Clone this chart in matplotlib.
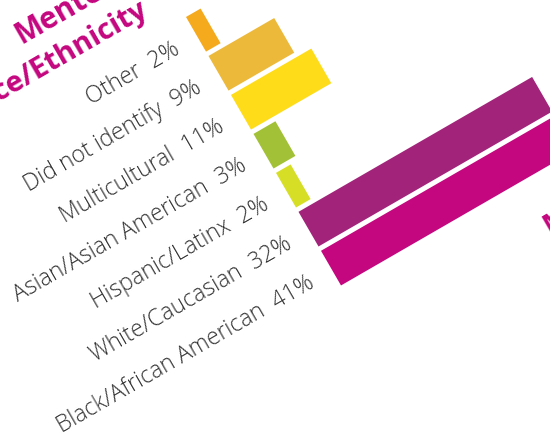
import numpy as np
import matplotlib.pyplot as plt
from matplotlib.transforms import Affine2D

plt.rcParams['font.family'] = ['Open Sans', 'DejaVu Sans']

# data (top bar first)
categories = ['Other', 'Did not identify', 'Multicultural', 'Asian/Asian American',
              'Hispanic/Latinx', 'White/Caucasian', 'Black/African American']
values = [2, 9, 11, 3, 2, 32, 41]
colors = ['#F5A91D', '#EDB93B', '#FEDC1A', '#A3C136', '#D6DE26', '#A2237A', '#C4067F']

W, H = 550, 439
fig = plt.figure(figsize=(W / 100, H / 100), dpi=100)
ax = fig.add_axes([0, 0, 1, 1])
ax.set_xlim(0, W)
ax.set_ylim(H, 0)
ax.axis('off')

# bar frame: x in percent, y in bar slots, rotated 30 deg and placed on the page
px_per_pct = 8.43
slot = 45.0
rot = Affine2D().scale(px_per_pct, slot).rotate_deg(-30).translate(196, 35.3) + ax.transData

y = np.arange(len(categories))
ax.barh(y, values, height=40 / slot, left=0, color=colors, transform=rot)

for i, (cat, v) in enumerate(zip(categories, values)):
    ax.text(-22 / px_per_pct, i + 7.4 / slot, f'{cat}  {v}%', transform=rot,
            rotation=30, rotation_mode='anchor', ha='right', va='baseline',
            fontsize=16.5, color='#333333', fontweight='light')

# title, cut off by the page edge
ax.text(-156 / px_per_pct, -80 / slot, 'Mentee', transform=rot, rotation=30,
        rotation_mode='anchor', ha='left', va='baseline', fontsize=21.5,
        color='#C4067F', fontweight='bold')
ax.text(-30 / px_per_pct, -42 / slot, 'Race/Ethnicity', transform=rot, rotation=30,
        rotation_mode='anchor', ha='right', va='baseline', fontsize=21,
        color='#C4067F', fontweight='bold')
# neighbouring chart title, mostly outside the page
ax.text(206 / px_per_pct, 350 / slot, 'Mentor', transform=rot, rotation=30,
        rotation_mode='anchor', ha='left', va='baseline', fontsize=21,
        color='#C4067F', fontweight='bold')

fig.savefig('out.png', dpi=100)
